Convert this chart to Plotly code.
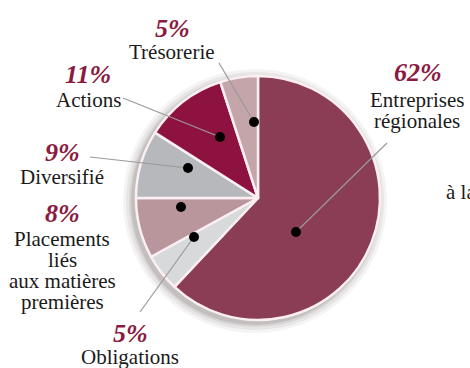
import plotly.graph_objects as go

W, H = 470, 368

categories = ["Entreprises régionales", "Obligations", "Placements liés aux matières premières",
              "Diversifié", "Actions", "Trésorerie"]
values = [62, 5, 8, 9, 11, 5]
pct_labels = ["62%", "5%", "8%", "9%", "11%", "5%"]
name_lines = [["Entreprises", "régionales"], ["Obligations"],
              ["Placements", "liés", "aux matières", "premières"],
              ["Diversifié"], ["Actions"], ["Trésorerie"]]
colors = ["#8a3d55", "#d8d9db", "#b9959c", "#b6b8bb", "#8d1240", "#c3a5aa"]

CX, CY, R = 258, 198, 122
LINE_H = 21


def px(x):
    return x / W


def py(y):
    return 1 - y / H


fig = go.Figure()

# soft shadow halo behind the pie
shapes = []
for d, op in [(10, 0.05), (7, 0.07), (4, 0.09), (2, 0.12)]:
    shapes.append(dict(type="circle", xref="paper", yref="paper",
                       x0=px(CX - R - d - 3), x1=px(CX + R + d - 3),
                       y0=py(CY + R + d + 3), y1=py(CY - R - d + 3),
                       fillcolor=f"rgba(60,40,45,{op})", line=dict(width=0), layer="below"))

fig.add_trace(go.Pie(
    labels=categories, values=values, sort=False, direction="clockwise", rotation=0,
    marker=dict(colors=colors, line=dict(color="#fbeff2", width=2.5)),
    textinfo="none", hoverinfo="label+percent", showlegend=False,
    domain=dict(x=[px(CX - R), px(CX + R)], y=[py(CY + R), py(CY - R)]),
))

# (pct center, first name-line center) in pixels
label_pos = {
    "Entreprises régionales": ((418, 72), (417, 100)),
    "Obligations": ((130, 333), (130, 357)),
    "Placements liés aux matières premières": ((62, 213), (62, 239)),
    "Diversifié": ((62, 152), (62, 177)),
    "Actions": ((88, 74), (88, 100)),
    "Trésorerie": ((172, 28), (172, 52)),
}
dots = {
    "Entreprises régionales": (296, 232),
    "Obligations": (194, 237),
    "Placements liés aux matières premières": (181, 207),
    "Diversifié": (188, 168),
    "Actions": (220, 137),
    "Trésorerie": (254, 122),
}
lines = {
    "Entreprises régionales": (387, 143),
    "Obligations": (140, 312),
    "Diversifié": (90, 157),
    "Actions": (123, 98),
    "Trésorerie": (219, 63),
}

annotations = []
for cat, pct, nl in zip(categories, pct_labels, name_lines):
    (ax_, ay_), (bx, by) = label_pos[cat]
    annotations.append(dict(x=px(ax_), y=py(ay_), xref="paper", yref="paper", text=f"<b><i>{pct}</i></b>",
                            showarrow=False, xanchor="center", yanchor="middle",
                            font=dict(family="Liberation Serif", size=26, color="#8b1a40")))
    for k, t in enumerate(nl):
        annotations.append(dict(x=px(bx), y=py(by + k * LINE_H), xref="paper", yref="paper", text=t,
                                showarrow=False, xanchor="center", yanchor="middle", align="center",
                                font=dict(family="Liberation Serif", size=21, color="#1a1a1a")))
    if cat in lines:
        lx, ly = lines[cat]
        dx, dy = dots[cat]
        shapes.append(dict(type="line", xref="paper", yref="paper", x0=px(lx), y0=py(ly),
                           x1=px(dx), y1=py(dy), line=dict(color="#9a9a9a", width=1.2)))
    dx, dy = dots[cat]
    shapes.append(dict(type="circle", xref="paper", yref="paper", x0=px(dx - 5), x1=px(dx + 5),
                       y0=py(dy + 5), y1=py(dy - 5), fillcolor="#000000", line=dict(width=0)))

# clipped neighbouring text fragment at right edge (as in the reference)
annotations.append(dict(x=px(444), y=py(192), xref="paper", yref="paper", text="à la",
                        showarrow=False, xanchor="left", yanchor="middle",
                        font=dict(family="Liberation Serif", size=21, color="#1a1a1a")))

fig.update_layout(width=W, height=H, margin=dict(l=0, r=0, t=0, b=0),
                  paper_bgcolor="white", plot_bgcolor="white",
                  shapes=shapes, annotations=annotations)

fig.write_html("out.html")
